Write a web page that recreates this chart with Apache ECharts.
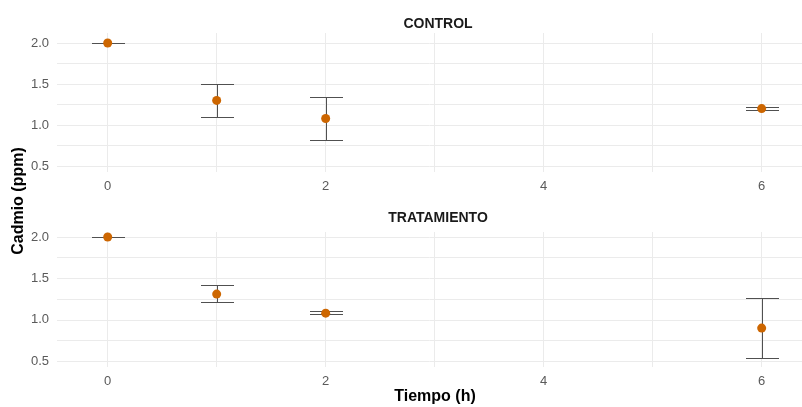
<!DOCTYPE html>
<html lang="es">
<head>
<meta charset="UTF-8">
<style>
html, body { height: 100%; margin: 0; background: #fff; }
</style>
</head>
<body>
<div id="chart" style="width:802px;height:407px;"></div>
<script src="https://cdn.jsdelivr.net/npm/echarts@6/dist/echarts.min.js"></script>
<script>
// tiempos y valores
var times = [0, 1, 2, 6];
var controlMean = [2.0, 1.30, 1.08, 1.20];
var controlLow = [2.0, 1.10, 0.82, 1.18];
var controlHigh = [2.0, 1.50, 1.345, 1.225];
var tratMean = [2.0, 1.31, 1.08, 0.90];
var tratLow = [2.0, 1.215, 1.065, 0.54];
var tratHigh = [2.0, 1.415, 1.11, 1.265];

var xTicks = [0, 2, 4, 6];
var yTicks = [0.5, 1.0, 1.5, 2.0];
var xGrid = [0, 1, 2, 3, 4, 5, 6];
var yGrid = [0.5, 0.75, 1.0, 1.25, 1.5, 1.75, 2.0];

var font = 'Liberation Sans, Arial, sans-serif';
var gridColor = '#ebebeb';
var pointColor = '#CD6600';
var barColor = '#505050';

function xAxis(idx) {
    return {
        type: 'value', gridIndex: idx, min: -0.465, max: 6.37,
        splitLine: {show: false}, axisLine: {show: false}, axisTick: {show: false},
        axisLabel: {customValues: xTicks, color: '#5a5a5a', fontSize: 13, fontFamily: font, margin: 8}
    };
}
function yAxis(idx, min, max) {
    return {
        type: 'value', gridIndex: idx, min: min, max: max,
        splitLine: {show: false}, axisLine: {show: false}, axisTick: {show: false},
        axisLabel: {customValues: yTicks, color: '#5a5a5a', fontSize: 13, fontFamily: font, margin: 8,
            formatter: function (v) { return v.toFixed(1); }}
    };
}
function gridSeries(idx) {
    var lines = [];
    xGrid.forEach(function (v) { lines.push({xAxis: v}); });
    yGrid.forEach(function (v) { lines.push({yAxis: v}); });
    return {
        type: 'line', xAxisIndex: idx, yAxisIndex: idx, data: [], z: 1,
        markLine: {silent: true, symbol: 'none', label: {show: false},
            lineStyle: {color: gridColor, width: 1, type: 'solid'}, data: lines}
    };
}
function errSeries(idx, low, high) {
    return {
        type: 'custom', xAxisIndex: idx, yAxisIndex: idx, z: 5,
        data: times.map(function (t, i) { return [t, low[i], high[i]]; }),
        renderItem: function (params, api) {
            var lo = api.coord([api.value(0), api.value(1)]);
            var hi = api.coord([api.value(0), api.value(2)]);
            var w = Math.round(api.size([0.15, 0])[0]);
            var xc = Math.round(lo[0]);
            var y1 = Math.round(hi[1]), y2 = Math.round(lo[1]);
            var st = {fill: barColor};
            return {type: 'group', children: [
                {type: 'rect', shape: {x: xc, y: y1, width: 1, height: Math.max(1, y2 - y1)}, style: st},
                {type: 'rect', shape: {x: xc - w, y: y1, width: 2 * w + 1, height: 1}, style: st},
                {type: 'rect', shape: {x: xc - w, y: y2, width: 2 * w + 1, height: 1}, style: st}
            ]};
        }
    };
}
function pointSeries(idx, mean) {
    return {
        type: 'scatter', xAxisIndex: idx, yAxisIndex: idx, z: 6,
        symbolSize: 9, itemStyle: {color: pointColor, opacity: 1},
        data: times.map(function (t, i) { return [t, mean[i]]; })
    };
}

var myChart = echarts.init(document.getElementById('chart'));
myChart.setOption({
    animation: false,
    backgroundColor: '#fff',
    title: [
        {text: 'CONTROL', left: 433, top: 12, textAlign: 'center',
            textStyle: {fontSize: 14, fontWeight: 'bold', color: '#1a1a1a', fontFamily: font}},
        {text: 'TRATAMIENTO', left: 433, top: 206, textAlign: 'center',
            textStyle: {fontSize: 14, fontWeight: 'bold', color: '#1a1a1a', fontFamily: font}}
    ],
    grid: [
        {left: 57, right: 0, top: 33, height: 139},
        {left: 57, right: 0, top: 232, height: 135}
    ],
    xAxis: [xAxis(0), xAxis(1)],
    yAxis: [yAxis(0, 0.427, 2.122), yAxis(1, 0.43, 2.06)],
    graphic: [
        {type: 'text', x: 435, y: 397,
            style: {text: 'Tiempo (h)', font: 'bold 16px ' + font, fill: '#000', textAlign: 'center', textVerticalAlign: 'middle'}},
        {type: 'text', x: 19, y: 201, rotation: Math.PI / 2,
            style: {text: 'Cadmio (ppm)', font: 'bold 16px ' + font, fill: '#000', textAlign: 'center', textVerticalAlign: 'middle'}}
    ],
    series: [
        gridSeries(0), gridSeries(1),
        errSeries(0, controlLow, controlHigh), errSeries(1, tratLow, tratHigh),
        pointSeries(0, controlMean), pointSeries(1, tratMean)
    ]
});
</script>
</body>
</html>
